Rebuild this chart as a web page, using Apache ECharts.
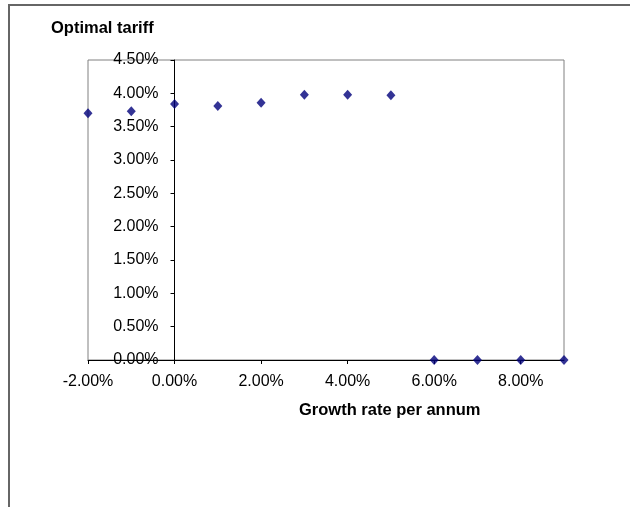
<!DOCTYPE html>
<html>
<head>
<meta charset="utf-8">
<script src="https://cdn.jsdelivr.net/npm/echarts@6/dist/echarts.min.js"></script>
<style>
  html, body { margin: 0; padding: 0; background: #fff; }
  #chart { width: 630px; height: 507px; }
</style>
</head>
<body>
<div id="chart"></div>
<script>
// growth rate per annum (%) and optimal tariff (%)
const growthRates = [-2, -1, 0, 1, 2, 3, 4, 5, 6, 7, 8, 9];
const optimalTariff = [3.70, 3.73, 3.84, 3.81, 3.86, 3.98, 3.98, 3.97, 0, 0, 0, 0];
const xTicks = [-2, 0, 2, 4, 6, 8];

const chart = echarts.init(document.getElementById("chart"));
const font = "'Liberation Sans', Arial, sans-serif";

const points = growthRates.map((g, i) => [g, optimalTariff[i]]);

const gridLeft = 88;
const gridWidth = 476;
const xMin = -2;
const xMax = 9;
// y axis crosses at x = 0, like the excel original
const yAxisShift = ((0 - xMin) / (xMax - xMin)) * gridWidth;

chart.setOption({
  animation: false,
  title: [
    {
      text: "Optimal tariff",
      left: 46,
      top: 15,
      textStyle: { fontFamily: font, fontSize: 16.5, fontWeight: "bold", color: "#000" },
    },
    {
      text: "Growth rate per annum",
      left: 294,
      top: 397,
      textStyle: { fontFamily: font, fontSize: 16.5, fontWeight: "bold", color: "#000" },
    },
  ],
  graphic: [
    {
      type: "rect",
      shape: { x: 9, y: 5, width: 700, height: 600 },
      style: { fill: "none", stroke: "#666", lineWidth: 2 },
      silent: true,
    },
  ],
  grid: {
    left: gridLeft,
    top: 60,
    width: gridWidth,
    height: 300,
    show: true,
    borderColor: "#808080",
    borderWidth: 1,
  },
  xAxis: {
    type: "value",
    min: xMin,
    max: xMax,
    interval: 2,
    splitLine: { show: false },
    axisLine: { lineStyle: { color: "#000", width: 1 } },
    axisTick: { customValues: xTicks, length: 4, lineStyle: { color: "#000" } },
    axisLabel: {
      customValues: xTicks,
      margin: 14,
      fontFamily: font,
      fontSize: 16,
      color: "#000",
      formatter: (v) => v.toFixed(2) + "%",
    },
  },
  yAxis: {
    type: "value",
    min: 0,
    max: 4.5,
    interval: 0.5,
    offset: -yAxisShift,
    splitLine: { show: false },
    axisLine: { onZero: false, lineStyle: { color: "#000", width: 1 } },
    axisTick: { length: 4, lineStyle: { color: "#000" } },
    axisLabel: {
      margin: 16,
      fontFamily: font,
      fontSize: 16,
      color: "#000",
      formatter: (v) => v.toFixed(2) + "%",
    },
  },
  series: [
    {
      type: "scatter",
      data: points,
      symbol: "diamond",
      symbolSize: [9, 10],
      itemStyle: { color: "#00007a" },
    },
  ],
});
</script>
</body>
</html>
